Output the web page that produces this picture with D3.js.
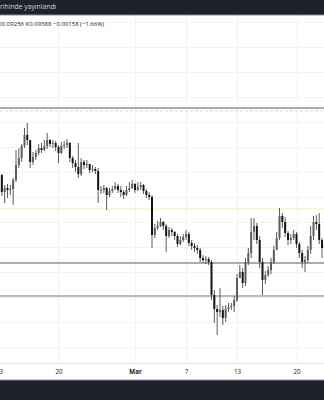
<!DOCTYPE html>
<html>
<head>
<meta charset="utf-8">
<script src="https://cdn.jsdelivr.net/npm/d3@7"></script>
<style>
  body { margin: 0; background: #fff; }
  svg { display: block; font-family: "Open Sans", "DejaVu Sans", sans-serif; }
</style>
</head>
<body>
<div id="chart"></div>
<script>
// 8h candles, first one at 13 Feb 2023 00:00 UTC
var startTime = Date.UTC(2023, 1, 13);
var step = 8 * 3600 * 1000;

var opens = [
  0.1014, 0.1009, 0.0992, 0.0996, 0.0994, 0.0995, 0.1004, 0.1019, 0.1026, 0.1038,
  0.1049, 0.1044, 0.1022, 0.1027, 0.1031, 0.1036, 0.1034, 0.1038, 0.1044, 0.1040,
  0.1041, 0.1037, 0.1031, 0.1038, 0.1039, 0.1041, 0.1026, 0.1021, 0.1017, 0.1010,
  0.1022, 0.1019, 0.1020, 0.1014, 0.1015, 0.1013, 0.0994, 0.0994, 0.0996, 0.0989,
  0.0993, 0.0995, 0.0998, 0.0994, 0.0992, 0.0989, 0.0994, 0.0996, 0.1000, 0.0994,
  0.0997, 0.0999, 0.0993, 0.0989, 0.0987, 0.0949, 0.0956, 0.0958, 0.0962, 0.0958,
  0.0948, 0.0954, 0.0952, 0.0948, 0.0940, 0.0944, 0.0947, 0.0950, 0.0941, 0.0938,
  0.0936, 0.0934, 0.0926, 0.0924, 0.0925, 0.0922, 0.0889, 0.0875, 0.0872, 0.0874,
  0.0866, 0.0875, 0.0877, 0.0878, 0.0884, 0.0906, 0.0912, 0.0901, 0.0922, 0.0931,
  0.0952, 0.0958, 0.0944, 0.0922, 0.0904, 0.0909, 0.0914, 0.0922, 0.0934, 0.0946,
  0.0968, 0.0962, 0.0951, 0.0944, 0.0946, 0.0950, 0.0940, 0.0931, 0.0922, 0.0924,
  0.0934, 0.0948, 0.0962, 0.0960, 0.0944, 0.0936
];
var highs = [
  0.1016, 0.1010, 0.0999, 0.1000, 0.0999, 0.1006, 0.1034, 0.1036, 0.1040, 0.1056,
  0.1061, 0.1044, 0.1032, 0.1034, 0.1040, 0.1041, 0.1044, 0.1051, 0.1045, 0.1044,
  0.1043, 0.1039, 0.1042, 0.1043, 0.1045, 0.1042, 0.1028, 0.1024, 0.1041, 0.1026,
  0.1024, 0.1024, 0.1020, 0.1019, 0.1017, 0.1016, 0.0998, 0.0999, 0.0997, 0.0996,
  0.0998, 0.1002, 0.1000, 0.0998, 0.0994, 0.0998, 0.1002, 0.1004, 0.1001, 0.1002,
  0.1002, 0.1000, 0.0995, 0.0992, 0.0989, 0.0960, 0.0963, 0.0966, 0.0963, 0.0960,
  0.0957, 0.0956, 0.0953, 0.0950, 0.0948, 0.0950, 0.0954, 0.0952, 0.0944, 0.0941,
  0.0939, 0.0936, 0.0929, 0.0928, 0.0927, 0.0924, 0.0894, 0.0879, 0.0896, 0.0878,
  0.0879, 0.0881, 0.0881, 0.0888, 0.0910, 0.0919, 0.0916, 0.0926, 0.0936, 0.0966,
  0.0966, 0.0961, 0.0948, 0.0926, 0.0913, 0.0918, 0.0926, 0.0938, 0.0952, 0.0976,
  0.0971, 0.0967, 0.0953, 0.0950, 0.0954, 0.0952, 0.0942, 0.0934, 0.0928, 0.0938,
  0.0958, 0.0968, 0.0969, 0.0971, 0.0946, 0.0944
];
var lows = [
  0.0992, 0.0988, 0.0981, 0.0986, 0.0989, 0.0979, 0.1002, 0.1016, 0.1022, 0.1036,
  0.1039, 0.1016, 0.1019, 0.1024, 0.1029, 0.1031, 0.1033, 0.1035, 0.1037, 0.1036,
  0.1033, 0.1021, 0.1030, 0.1035, 0.1036, 0.1022, 0.1016, 0.1012, 0.1006, 0.1008,
  0.1015, 0.1016, 0.1011, 0.1012, 0.1010, 0.0981, 0.0990, 0.0991, 0.0974, 0.0987,
  0.0991, 0.0994, 0.0991, 0.0987, 0.0985, 0.0988, 0.0992, 0.0995, 0.0991, 0.0993,
  0.0994, 0.0990, 0.0986, 0.0984, 0.0936, 0.0946, 0.0954, 0.0957, 0.0954, 0.0932,
  0.0946, 0.0948, 0.0944, 0.0937, 0.0939, 0.0942, 0.0944, 0.0938, 0.0934, 0.0932,
  0.0930, 0.0922, 0.0921, 0.0920, 0.0919, 0.0884, 0.0861, 0.0849, 0.0867, 0.0859,
  0.0862, 0.0872, 0.0874, 0.0872, 0.0882, 0.0906, 0.0896, 0.0898, 0.0919, 0.0926,
  0.0944, 0.0940, 0.0916, 0.0889, 0.0900, 0.0907, 0.0910, 0.0920, 0.0934, 0.0944,
  0.0956, 0.0947, 0.0939, 0.0940, 0.0944, 0.0936, 0.0926, 0.0916, 0.0912, 0.0921,
  0.0930, 0.0944, 0.0954, 0.0940, 0.0926, 0.0934
];
var closes = [
  0.1009, 0.0992, 0.0996, 0.0994, 0.0995, 0.1004, 0.1019, 0.1026, 0.1038, 0.1049,
  0.1044, 0.1022, 0.1027, 0.1031, 0.1036, 0.1034, 0.1038, 0.1044, 0.1040, 0.1041,
  0.1037, 0.1031, 0.1038, 0.1039, 0.1041, 0.1026, 0.1021, 0.1017, 0.1010, 0.1022,
  0.1019, 0.1020, 0.1014, 0.1015, 0.1013, 0.0994, 0.0994, 0.0996, 0.0989, 0.0993,
  0.0995, 0.0998, 0.0994, 0.0992, 0.0989, 0.0994, 0.0996, 0.1000, 0.0994, 0.0997,
  0.0999, 0.0993, 0.0989, 0.0987, 0.0949, 0.0956, 0.0958, 0.0962, 0.0958, 0.0948,
  0.0954, 0.0952, 0.0948, 0.0940, 0.0944, 0.0947, 0.0950, 0.0941, 0.0938, 0.0936,
  0.0934, 0.0926, 0.0924, 0.0925, 0.0922, 0.0889, 0.0875, 0.0872, 0.0874, 0.0866,
  0.0875, 0.0877, 0.0878, 0.0884, 0.0906, 0.0912, 0.0901, 0.0922, 0.0931, 0.0952,
  0.0958, 0.0944, 0.0922, 0.0904, 0.0909, 0.0914, 0.0922, 0.0934, 0.0946, 0.0968,
  0.0962, 0.0951, 0.0944, 0.0946, 0.0950, 0.0940, 0.0931, 0.0922, 0.0924, 0.0934,
  0.0948, 0.0962, 0.0960, 0.0944, 0.0936, 0.0939
];

// horizontal drawn levels
var levelPrices = [0.1076, 0.0975, 0.0921, 0.0888];
var levelColors = ["#8c8f98", "#f6efb4", "#5a5a5a", "#a3a3a3"];
var levelWidths = [1.5, 1.2, 1, 1.5];
var dashedLevel = 0.1073;

// grid
var gridPrices = [0.1162, 0.1137, 0.1112, 0.1087, 0.1062, 0.1037, 0.1012, 0.0987,
                  0.0962, 0.0937, 0.0912, 0.0887, 0.0862, 0.0837];
var tickDates = [Date.UTC(2023, 1, 13), Date.UTC(2023, 1, 20), Date.UTC(2023, 2, 1),
                 Date.UTC(2023, 2, 7), Date.UTC(2023, 2, 13), Date.UTC(2023, 2, 20)];
var tickLabels = ["13", "20", "Mar", "7", "13", "20"];

var W = 324, H = 400;
var plotTop = 15, plotBottom = 363;

var svg = d3.select("#chart")
  .append("svg")
    .attr("width", W)
    .attr("height", H);

var x = d3.scaleUtc()
  .domain([Date.UTC(2023, 1, 13), Date.UTC(2023, 2, 23)])
  .range([-1, 322]);

var y = d3.scaleLinear()
  .domain([0.1184, 0.0804])
  .range([0, 380]);

var candles = closes.map(function(c, i) {
  return { t: startTime + i * step, o: opens[i], h: highs[i], l: lows[i], c: c };
});

// grid lines
svg.append("g")
  .selectAll("line")
  .data(gridPrices)
  .enter()
  .append("line")
    .attr("x1", 0).attr("x2", W)
    .attr("y1", function(d) { return Math.round(y(d)) + 0.5; })
    .attr("y2", function(d) { return Math.round(y(d)) + 0.5; })
    .style("stroke", "#f0f3fa")
    .style("stroke-width", 1);

svg.append("g")
  .selectAll("line")
  .data(tickDates)
  .enter()
  .append("line")
    .attr("x1", function(d) { return Math.round(x(d)) + 0.5; })
    .attr("x2", function(d) { return Math.round(x(d)) + 0.5; })
    .attr("y1", plotTop).attr("y2", plotBottom)
    .style("stroke", "#f0f3fa")
    .style("stroke-width", 1);

// dashed level just under the top line
svg.append("line")
  .attr("x1", 0).attr("x2", W)
  .attr("y1", y(dashedLevel)).attr("y2", y(dashedLevel))
  .style("stroke", "#d6d8de")
  .style("stroke-width", 1)
  .style("stroke-dasharray", "3,2");

// level lines
svg.append("g")
  .selectAll("line")
  .data(levelPrices)
  .enter()
  .append("line")
    .attr("x1", 0).attr("x2", W)
    .attr("y1", function(d) { return y(d); })
    .attr("y2", function(d) { return y(d); })
    .style("stroke", function(d, i) { return levelColors[i]; })
    .style("stroke-width", function(d, i) { return levelWidths[i]; });

// candles
var cg = svg.append("g");
function col(d) { return d.c >= d.o ? "#5e5e5e" : "#161616"; }

cg.selectAll(".wick")
  .data(candles)
  .enter()
  .append("line")
    .attr("class", "wick")
    .attr("x1", function(d) { return x(d.t); })
    .attr("x2", function(d) { return x(d.t); })
    .attr("y1", function(d) { return y(d.h); })
    .attr("y2", function(d) { return y(d.l); })
    .style("stroke", "#4a4a4a")
    .style("stroke-width", 0.9);

cg.selectAll(".body")
  .data(candles)
  .enter()
  .append("rect")
    .attr("class", "body")
    .attr("x", function(d) { return x(d.t) - 1; })
    .attr("width", 2)
    .attr("y", function(d) { return y(Math.max(d.o, d.c)); })
    .attr("height", function(d) { return Math.max(1, Math.abs(y(d.o) - y(d.c))); })
    .style("fill", col);

// time axis area
svg.append("rect")
  .attr("x", 0).attr("y", plotBottom)
  .attr("width", W).attr("height", 17)
  .style("fill", "#fff");
svg.append("line")
  .attr("x1", 0).attr("x2", W)
  .attr("y1", plotBottom + 0.5).attr("y2", plotBottom + 0.5)
  .style("stroke", "#e6e8ee");

var xAxis = svg.append("g")
  .attr("transform", "translate(0," + plotBottom + ")")
  .call(d3.axisBottom(x)
    .tickValues(tickDates)
    .tickFormat(function(d, i) { return tickLabels[i]; })
    .tickSize(0)
    .tickPadding(7));
xAxis.select(".domain").remove();
xAxis.selectAll("text")
  .style("font-family", "'Open Sans', sans-serif")
  .style("font-size", "6.2px")
  .style("fill", "#131722")
  .style("font-weight", function(d, i) { return tickLabels[i] === "Mar" ? "bold" : "normal"; });

// header band
svg.append("rect")
  .attr("x", 0).attr("y", 0)
  .attr("width", W).attr("height", 15)
  .style("fill", "#1e222d");
svg.append("line")
  .attr("x1", 0).attr("x2", W)
  .attr("y1", 15).attr("y2", 15)
  .style("stroke", "#8a8d96")
  .style("stroke-width", 1);
svg.append("text")
  .attr("x", 0)
  .attr("y", 9)
  .text("rihinde yayınlandı")
  .style("font-size", "6.8px")
  .style("fill", "#d1d4dc");

svg.append("text")
  .attr("x", -2.5)
  .attr("y", 26)
  .text("D0.09256  K0.09388  −0.00158 (−1.66%)")
  .style("font-size", "6px")
  .style("fill", "#131722");

// footer band
svg.append("rect")
  .attr("x", 0).attr("y", 380)
  .attr("width", W).attr("height", 20)
  .style("fill", "#1e222d");
svg.append("line")
  .attr("x1", 0).attr("x2", W)
  .attr("y1", 380).attr("y2", 380)
  .style("stroke", "#8a8d96")
  .style("stroke-width", 1);
</script>
</body>
</html>
